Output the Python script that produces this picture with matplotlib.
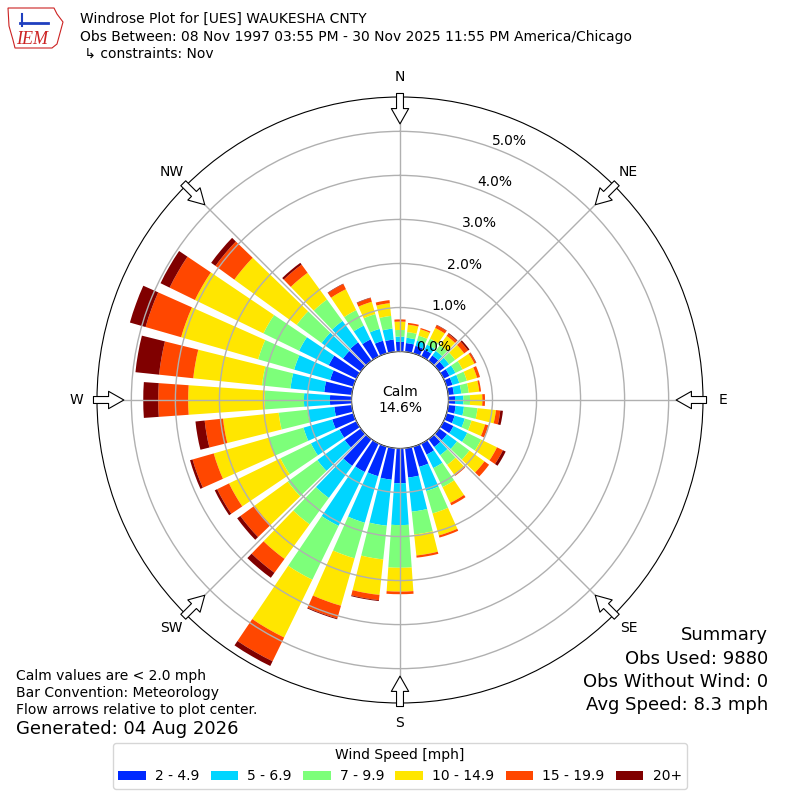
import numpy as np
import matplotlib
matplotlib.use("Agg")
import matplotlib.pyplot as plt
from matplotlib.patches import Patch, Polygon

# direction bins (degrees, wind from) and speed bins
directions = np.arange(0, 360, 10)
speed_labels = ["2 - 4.9", "5 - 6.9", "7 - 9.9", "10 - 14.9", "15 - 19.9", "20+"]
compass_labels = ["N", "NE", "E", "SE", "S", "SW", "W", "NW"]

# percent of observations in each direction bin, one list per speed bin
spd_2_49 = [0.22, 0.20, 0.18, 0.17, 0.15, 0.15, 0.15, 0.14, 0.13, 0.15,
            0.17, 0.19, 0.25, 0.22, 0.22, 0.28, 0.48, 0.67, 0.79, 0.72,
            0.70, 0.72, 0.75, 0.45, 0.43, 0.50, 0.40, 0.49, 0.63, 0.55,
            0.70, 0.50, 0.52, 0.43, 0.30, 0.28]
spd_5_69 = [0.12, 0.12, 0.12, 0.13, 0.13, 0.13, 0.15, 0.16, 0.17, 0.19,
            0.19, 0.24, 0.35, 0.28, 0.23, 0.34, 0.57, 0.78, 0.95, 1.05,
            1.10, 1.36, 0.90, 0.77, 0.72, 0.68, 0.61, 0.59, 0.77, 0.85,
            0.75, 0.60, 0.60, 0.35, 0.28, 0.25]
spd_7_99 = [0.15, 0.13, 0.12, 0.15, 0.16, 0.17, 0.18, 0.18, 0.17, 0.15,
            0.31, 0.16, 0.35, 0.35, 0.27, 0.48, 0.53, 0.52, 0.97, 0.77,
            0.84, 1.36, 0.74, 0.83, 0.77, 0.82, 0.66, 0.89, 0.65, 0.85,
            0.90, 0.70, 0.60, 0.39, 0.35, 0.29]
spd_10_149 = [0.19, 0.17, 0.15, 0.27, 0.26, 0.25, 0.30, 0.24, 0.24, 0.28,
              0.42, 0.32, 0.40, 0.42, 0.27, 0.40, 0.52, 0.48, 0.54, 0.81,
              1.12, 1.46, 0.97, 0.93, 1.30, 1.30, 1.27, 1.74, 1.57, 1.82,
              1.73, 1.75, 0.75, 0.53, 0.29, 0.29]
spd_15_199 = [0.05, 0.04, 0.03, 0.07, 0.06, 0.11, 0.04, 0.07, 0.04, 0.06,
              0.10, 0.08, 0.15, 0.13, 0.04, 0.06, 0.05, 0.05, 0.06, 0.12,
              0.30, 0.60, 0.39, 0.40, 0.30, 0.50, 0.42, 0.68, 0.78, 0.84,
              0.64, 0.53, 0.23, 0.13, 0.09, 0.07]
spd_20 = [0.00, 0.00, 0.00, 0.01, 0.02, 0.04, 0.01, 0.00, 0.00, 0.00,
          0.06, 0.00, 0.07, 0.00, 0.00, 0.00, 0.00, 0.00, 0.00, 0.02,
          0.02, 0.12, 0.14, 0.09, 0.06, 0.06, 0.21, 0.34, 0.54, 0.37,
          0.23, 0.12, 0.05, 0.01, 0.01, 0.00]
speed_bins = [spd_2_49, spd_5_69, spd_7_99, spd_10_149, spd_15_199, spd_20]

calm_percent = 14.6
rings = [0, 1, 2, 3, 4, 5]

fig = plt.figure(figsize=(8, 8), dpi=100)
ax = fig.add_axes([0.12125, 0.12125, 0.7575, 0.7575], projection="polar")
ax.set_theta_zero_location("N")
ax.set_theta_direction(-1)

colors = plt.cm.jet(np.linspace(0, 1, 7))[1:]
theta = np.radians(directions)
width = np.radians(10) * 0.8
base = np.zeros(len(directions))
for vals, color, label in zip(speed_bins, colors, speed_labels):
    ax.bar(theta, vals, width=width, bottom=base, color=color,
           linewidth=0, label=label)
    base = base + np.array(vals)

rmax = 5.78
ax.set_rorigin(-1.10)
ax.set_ylim(0, rmax)
ax.set_yticks(rings)
ax.set_yticklabels([f"{r:.1f}%" for r in rings], fontsize=10)
ax.set_rlabel_position(20)
ax.set_xticks(np.radians(np.arange(0, 360, 45)))
ax.set_xticklabels(compass_labels, fontsize=10)
ax.tick_params(axis="x", pad=4)
ax.set_axisbelow(False)
ax.grid(True, color="#b0b0b0", linewidth=1)

# flow arrows at the compass points
for t in np.radians(np.arange(0, 360, 45)):
    ax.annotate("", xy=(t, 5.17), xytext=(t, 5.86),
                arrowprops=dict(facecolor="white", edgecolor="black",
                                width=5, headwidth=12.5, headlength=11,
                                linewidth=0.8, shrink=0),
                annotation_clip=False)

ax.text(0.5, 0.5, f"Calm\n{calm_percent:.1f}%", transform=ax.transAxes,
        ha="center", va="center", fontsize=10)

# header
fig.text(80 / 800, 1 - 19 / 800, "Windrose Plot for [UES] WAUKESHA CNTY",
         fontsize=10, va="center")
fig.text(80 / 800, 1 - 37 / 800,
         "Obs Between: 08 Nov 1997 03:55 PM - 30 Nov 2025 11:55 PM America/Chicago",
         fontsize=10, va="center")
fig.text(80 / 800, 1 - 54 / 800, " \u21b3 constraints: Nov", fontsize=10,
         va="center")

# rough stand-in for the IEM logo (state outline, station symbol, text)
outline_px = [(8, 8), (54, 8), (57, 14), (63, 22), (60, 33), (57, 44),
              (52, 48), (15, 48), (13, 40), (9, 26)]
fig.add_artist(Polygon([(x / 800, 1 - y / 800) for x, y in outline_px],
                       closed=True, fill=False, edgecolor="#cc2222",
                       linewidth=0.8, transform=fig.transFigure))
fig.add_artist(plt.Line2D([20 / 800, 48 / 800], [1 - 23 / 800, 1 - 23 / 800],
                          color="#1f3fbf", linewidth=2))
fig.add_artist(plt.Line2D([22 / 800, 22 / 800], [1 - 14 / 800, 1 - 26 / 800],
                          color="#1f3fbf", linewidth=1.5))
fig.text(32 / 800, 1 - 39 / 800, "IEM", fontsize=13, color="#cc2222",
         family="Liberation Serif", style="italic", ha="center", va="center")

# notes
fig.text(16 / 800, 1 - 676 / 800, "Calm values are < 2.0 mph", fontsize=10,
         va="center")
fig.text(16 / 800, 1 - 693 / 800, "Bar Convention: Meteorology", fontsize=10,
         va="center")
fig.text(16 / 800, 1 - 710 / 800, "Flow arrows relative to plot center.",
         fontsize=10, va="center")
fig.text(16 / 800, 1 - 729 / 800, "Generated: 04 Aug 2026", fontsize=13,
         va="center")

summary = ["Summary", "Obs Used: 9880", "Obs Without Wind: 0",
           "Avg Speed: 8.3 mph"]
for i, line in enumerate(summary):
    fig.text(768 / 800, 1 - (635 + i * 23.5) / 800, line, fontsize=13,
             ha="right", va="center")

handles = [Patch(facecolor=c, edgecolor="none") for c in colors]
fig.legend(handles, speed_labels, loc="lower center",
           bbox_to_anchor=(0.5, 11 / 800), borderaxespad=0, ncol=6,
           fontsize=10, title="Wind Speed [mph]", title_fontsize=10,
           handleheight=0.7, columnspacing=0.8, handletextpad=0.65)

fig.savefig("out.png", dpi=100)
